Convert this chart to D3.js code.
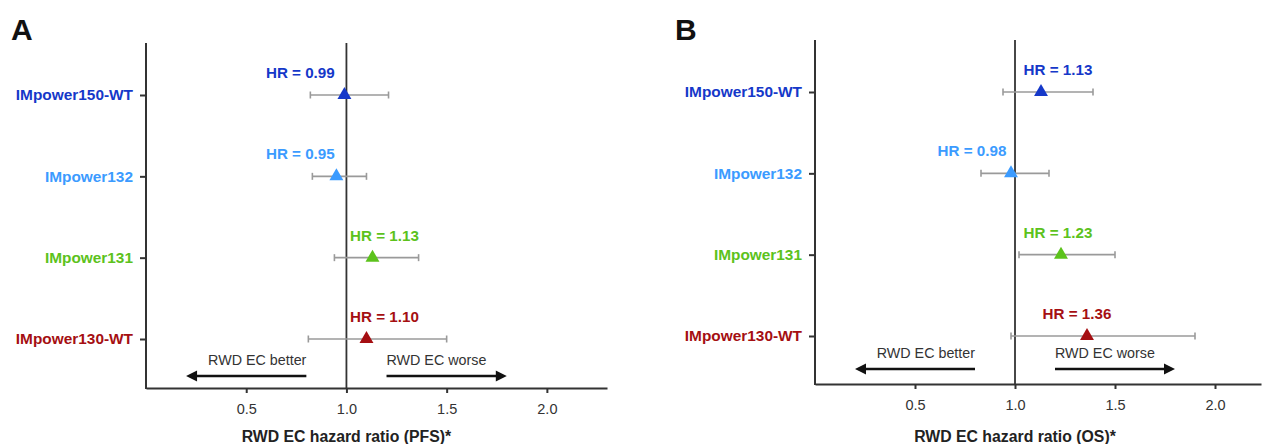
<!DOCTYPE html>
<html>
<head>
<meta charset="utf-8">
<script src="https://cdn.jsdelivr.net/npm/d3@7"></script>
<style>
  body { margin: 0; background: #fff; }
  svg { display: block; font-family: "Liberation Sans", Arial, sans-serif; }
</style>
</head>
<body>
<svg></svg>
<script>
// Studies (rows, top to bottom)
const studies = ["IMpower150-WT", "IMpower132", "IMpower131", "IMpower130-WT"];

// Panel A: PFS hazard ratios with 95% CI
const pfsHR = [0.99, 0.95, 1.13, 1.10];
const pfsLow = [0.82, 0.83, 0.94, 0.81];
const pfsHigh = [1.21, 1.10, 1.36, 1.50];

// Panel B: OS hazard ratios with 95% CI
const osHR = [1.13, 0.98, 1.23, 1.36];
const osLow = [0.94, 0.83, 1.02, 0.98];
const osHigh = [1.39, 1.17, 1.50, 1.90];

const xTicks = [0.5, 1.0, 1.5, 2.0];
const betterLabel = "RWD EC better";
const worseLabel = "RWD EC worse";

// styling / layout
const studyColors = ["#1538c9", "#3b9bff", "#5cc21c", "#a50f12"];

const W = 1262, H = 444;
const svg = d3.select("svg").attr("width", W).attr("height", H);

const panels = [
  {
    letter: "A", title: "RWD EC hazard ratio (PFS)*",
    hr: pfsHR, lo: pfsLow, hi: pfsHigh,
    x0: 146, x1: 607, xMax: 2.3,
    top: 43, bottom: 388, rows: [95, 339],
    letterX: 11, letterY: 40,
    hrLabelAt: [0.77, 0.77, 1.19, 1.19]
  },
  {
    letter: "B", title: "RWD EC hazard ratio (OS)*",
    hr: osHR, lo: osLow, hi: osHigh,
    x0: 815, x1: 1261, xMax: 2.23,
    top: 40, bottom: 384, rows: [92, 336],
    letterX: 675, letterY: 40,
    hrLabelAt: [1.215, 0.785, 1.215, 1.31]
  }
];

panels.forEach(p => {
  const g = svg.append("g");

  const x = d3.scaleLinear().domain([0, p.xMax]).range([p.x0, p.x1]);
  const y = d3.scalePoint().domain(studies).range(p.rows);

  // panel letter
  g.append("text")
    .attr("x", p.letterX).attr("y", p.letterY)
    .attr("font-size", 30).attr("font-weight", "bold")
    .attr("fill", "#111")
    .text(p.letter);

  // x axis
  const xAxis = g.append("g")
    .attr("transform", `translate(0,${p.bottom})`)
    .call(d3.axisBottom(x).tickValues(xTicks).tickFormat(d3.format(".1f"))
      .tickSize(5).tickSizeOuter(0).tickPadding(11));
  xAxis.select(".domain").attr("stroke", "#333").attr("stroke-width", 2);
  xAxis.selectAll(".tick line").attr("stroke", "#333").attr("stroke-width", 2);
  xAxis.selectAll(".tick text")
    .attr("font-size", 14.5).attr("fill", "#333")
    .attr("font-family", "Liberation Sans, Arial, sans-serif");

  // y axis
  const yAxis = g.append("g")
    .attr("transform", `translate(${p.x0},0)`)
    .call(d3.axisLeft(y).tickSize(6).tickPadding(7));
  yAxis.select(".domain").remove();
  yAxis.selectAll(".tick line").attr("stroke", "#333").attr("stroke-width", 2);
  yAxis.selectAll(".tick text")
    .attr("font-size", 15.4).attr("font-weight", "bold")
    .attr("font-family", "Liberation Sans, Arial, sans-serif")
    .attr("fill", (d, i) => studyColors[i]);
  g.append("line")
    .attr("x1", p.x0).attr("x2", p.x0)
    .attr("y1", p.top).attr("y2", p.bottom + 1)
    .attr("stroke", "#333").attr("stroke-width", 2);

  // reference line at HR = 1
  g.append("line")
    .attr("x1", x(1)).attr("x2", x(1))
    .attr("y1", p.top).attr("y2", p.bottom)
    .attr("stroke", "#333").attr("stroke-width", 1.8);

  const rows = studies.map((s, i) => ({ s, i, hr: p.hr[i], lo: p.lo[i], hi: p.hi[i] }));

  // CI whiskers
  const ci = g.append("g").attr("stroke", "#9a9a9a").attr("stroke-width", 1.6);
  ci.selectAll("line.ci").data(rows).join("line").attr("class", "ci")
    .attr("x1", d => x(d.lo)).attr("x2", d => x(d.hi))
    .attr("y1", d => y(d.s)).attr("y2", d => y(d.s));
  ci.selectAll("line.capL").data(rows).join("line").attr("class", "capL")
    .attr("x1", d => x(d.lo)).attr("x2", d => x(d.lo))
    .attr("y1", d => y(d.s) - 3.5).attr("y2", d => y(d.s) + 3.5);
  ci.selectAll("line.capR").data(rows).join("line").attr("class", "capR")
    .attr("x1", d => x(d.hi)).attr("x2", d => x(d.hi))
    .attr("y1", d => y(d.s) - 3.5).attr("y2", d => y(d.s) + 3.5);

  // point estimates
  g.selectAll("path.pt").data(rows).join("path").attr("class", "pt")
    .attr("d", d3.symbol(d3.symbolTriangle, 84))
    .attr("transform", d => `translate(${x(d.hr)},${y(d.s)})`)
    .attr("fill", d => studyColors[d.i]);

  // HR labels
  g.selectAll("text.hr").data(rows).join("text").attr("class", "hr")
    .attr("x", d => x(p.hrLabelAt[d.i]))
    .attr("y", d => y(d.s) - 17)
    .attr("text-anchor", "middle")
    .attr("font-size", 15.2).attr("font-weight", "bold")
    .attr("fill", d => studyColors[d.i])
    .text(d => `HR = ${d.hr.toFixed(2)}`);

  // direction arrows
  const arrowY = p.bottom - (p.letter === "A" ? 12 : 15);
  const arrows = [
    { from: 0.8, to: 0.2, label: betterLabel, anchor: "end" },
    { from: 1.2, to: 1.8, label: worseLabel, anchor: "start" }
  ];
  arrows.forEach(a => {
    const dir = Math.sign(a.to - a.from);
    g.append("line")
      .attr("x1", x(a.from)).attr("x2", x(a.to) - dir * 8)
      .attr("y1", arrowY).attr("y2", arrowY)
      .attr("stroke", "#111").attr("stroke-width", 2.6);
    const tx = x(a.to);
    g.append("path")
      .attr("d", `M${tx},${arrowY} L${tx - dir * 11},${arrowY - 5.5} L${tx - dir * 11},${arrowY + 5.5} Z`)
      .attr("fill", "#111");
    g.append("text")
      .attr("x", x(a.from)).attr("y", arrowY - 11)
      .attr("text-anchor", a.anchor)
      .attr("font-size", 14.3).attr("fill", "#333")
      .text(a.label);
  });

  // axis title
  g.append("text")
    .attr("x", x(1)).attr("y", H - 2)
    .attr("text-anchor", "middle")
    .attr("font-size", 15.8).attr("font-weight", "bold")
    .attr("fill", "#222")
    .text(p.title);
});
</script>
</body>
</html>
